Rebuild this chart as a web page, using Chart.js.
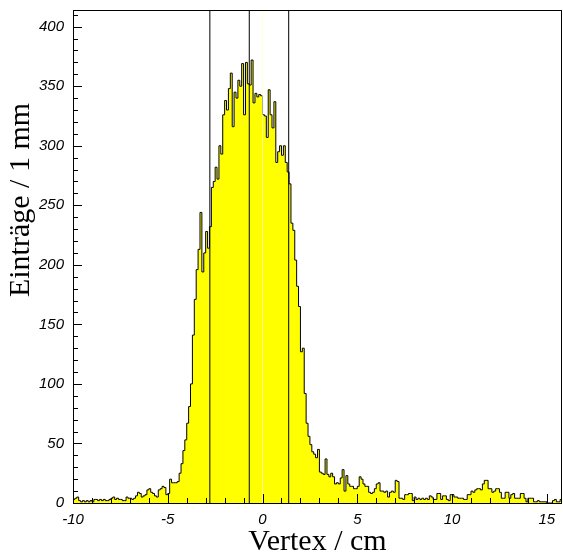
<!DOCTYPE html>
<html>
<head>
<meta charset="utf-8">
<script src="https://cdn.jsdelivr.net/npm/chart.js@4.4.1/dist/chart.umd.min.js"></script>
<style>
  html, body { margin: 0; padding: 0; background: #fff; }
</style>
</head>
<body>
<canvas id="myChart" width="563" height="557"></canvas>
<script>
// histogram: 1 mm bins starting at -10 cm
const binStart = -10;
const binWidth = 0.1;

// counts per bin, left to right
const tailLeft = [
  3, 4, 5, 2, 1, 2, 1, 2, 1, 2, 1, 3, 3, 2, 3, 2, 3, 2, 2, 3,
  4, 5, 3, 4, 3, 3, 2, 2, 5, 4, 4, 3, 4, 6, 9, 8, 5, 6, 7, 11,
  12, 9, 8, 6, 5, 11, 12, 14, 13, 7, 8, 20, 17, 17, 17, 18,
];
const rise = [25, 33, 44, 53, 67, 81, 100, 141, 171, 196, 213, 244, 194, 210, 228, 214, 232];
const peak = [
  265, 270, 282, 272, 300, 293, 326, 338, 330, 348,
  361, 316, 345, 340, 355, 350, 369, 326, 370, 352,
  351, 372, 336, 344, 341, 343, 342, 326, 325, 307,
  347, 326, 315, 337, 286, 295, 300, 292, 300, 286,
  278, 268, 235, 229,
];
const fall = [204, 182, 165, 127, 130, 92, 67, 56, 49, 43, 41, 38, 45, 26, 25, 24, 37, 24, 22, 25, 22];
const tailRight = [
  16, 17, 16, 21, 28, 10, 23, 16, 14, 14,
  12, 12, 14, 22, 20, 16, 14, 14, 9, 8, 9,
  12, 16, 17, 10, 10, 9, 10, 5, 9, 10,
  9, 19, 18, 4, 4, 3, 7, 7, 8, 8,
  2, 5, 3, 4, 3, 4, 3, 4, 3, 6,
  5, 3, 3, 8, 8, 3, 6, 6, 3, 2,
  7, 7, 5, 5, 4, 4, 4, 3, 3, 7,
  7, 10, 9, 11, 12, 12, 11, 16, 19, 19,
  12, 12, 9, 10, 12, 12, 9, 4, 4, 9,
  9, 4, 7, 8, 4, 4, 4, 8, 8, 4,
  1, 4, 4, 4, 1, 1, 2, 1, 1, 1,
  1, 0, 0, 0, 2, 3, 1, 1, 3,
];
const counts = tailLeft.concat(rise, peak, fall, tailRight);

// tick labels
const xTickValues = [-10, -5, 0, 5, 10, 15];
const yTickValues = [0, 50, 100, 150, 200, 250, 300, 350, 400];

// marker lines (mean and +-1 sigma) and the zero line
const markerLines = [-2.78, -0.7, 1.38];
const zeroLine = 0;

const xMin = -10;
const xMax = binStart + counts.length * binWidth;
const yMin = 0;
const yMax = 414;

const histPoints = counts.map((c, i) => ({ x: binStart + i * binWidth, y: c }));
histPoints.push({ x: xMax, y: counts[counts.length - 1] });

const vline = (xv) => [{ x: xv, y: yMin }, { x: xv, y: yMax }];

const datasets = markerLines.map((m) => ({
  data: vline(m),
  borderColor: "#000",
  borderWidth: 1,
  pointRadius: 0,
  fill: false,
}));
datasets.push({
  data: vline(zeroLine),
  borderColor: "rgba(255,255,200,0.7)",
  borderWidth: 1,
  pointRadius: 0,
  fill: false,
});
datasets.push({
  data: histPoints,
  stepped: true,
  borderColor: "#000",
  borderWidth: 1,
  backgroundColor: "#ffff00",
  pointRadius: 0,
  fill: "origin",
});

// inward ticks, frame and y title (ROOT style)
const rootFrame = {
  id: "rootFrame",
  afterDatasetsDraw(chart) {
    const { ctx, chartArea: a, scales } = chart;
    const x = scales.x;
    const y = scales.y;
    ctx.save();
    ctx.strokeStyle = "#000";
    ctx.lineWidth = 1;
    ctx.beginPath();
    for (let v = -10; v <= 15; v++) {
      const px = Math.round(x.getPixelForValue(v)) + 0.5;
      const len = v % 5 === 0 ? 9 : 5;
      ctx.moveTo(px, a.bottom);
      ctx.lineTo(px, a.bottom - len);
    }
    for (let v = 0; v <= 410; v += 10) {
      const py = Math.round(y.getPixelForValue(v)) + 0.5;
      const len = v % 50 === 0 ? 9 : 5;
      ctx.moveTo(a.left, py);
      ctx.lineTo(a.left + len, py);
    }
    ctx.stroke();
    ctx.strokeRect(Math.round(a.left) + 0.5, Math.round(a.top) + 0.5,
      Math.round(a.right - a.left) - 1, Math.round(a.bottom - a.top));

    ctx.fillStyle = "#000";
    ctx.font = '30px "Liberation Serif"';
    ctx.textAlign = "center";
    ctx.textBaseline = "middle";
    ctx.translate(21, 200);
    ctx.rotate(-Math.PI / 2);
    ctx.fillText("Einträge / 1 mm", 0, 0);
    ctx.restore();
  },
};

const tickFont = { family: "Liberation Sans", size: 15, style: "italic" };

new Chart("myChart", {
  type: "line",
  data: { datasets: datasets },
  plugins: [rootFrame],
  options: {
    responsive: false,
    animation: false,
    devicePixelRatio: 1,
    layout: { padding: { top: 10, right: 1, left: 0, bottom: 0 } },
    plugins: {
      legend: { display: false },
      tooltip: { enabled: false },
    },
    scales: {
      x: {
        type: "linear",
        min: xMin,
        max: xMax,
        border: { display: false },
        grid: { display: false, drawTicks: false },
        ticks: {
          padding: 8,
          color: "#000",
          font: tickFont,
          maxRotation: 0,
          autoSkip: false,
          callback: (v) => String(v),
        },
        afterBuildTicks: (s) => {
          s.ticks = xTickValues.map((v) => ({ value: v }));
        },
        afterFit: (s) => {
          s.height = 54;
          s.paddingLeft = 0;
          s.paddingRight = 0;
        },
        title: {
          display: true,
          text: "Vertex / cm",
          color: "#000",
          font: { family: "Liberation Serif", size: 30, lineHeight: 1 },
          padding: { top: 0, bottom: 0 },
        },
      },
      y: {
        min: yMin,
        max: yMax,
        border: { display: false },
        grid: { display: false, drawTicks: false },
        ticks: {
          padding: 9,
          color: "#000",
          font: tickFont,
          autoSkip: false,
        },
        afterBuildTicks: (s) => {
          s.ticks = yTickValues.map((v) => ({ value: v }));
        },
        afterFit: (s) => {
          s.width = 73;
          s.paddingTop = 0;
          s.paddingBottom = 0;
        },
      },
    },
  },
});
</script>
</body>
</html>
